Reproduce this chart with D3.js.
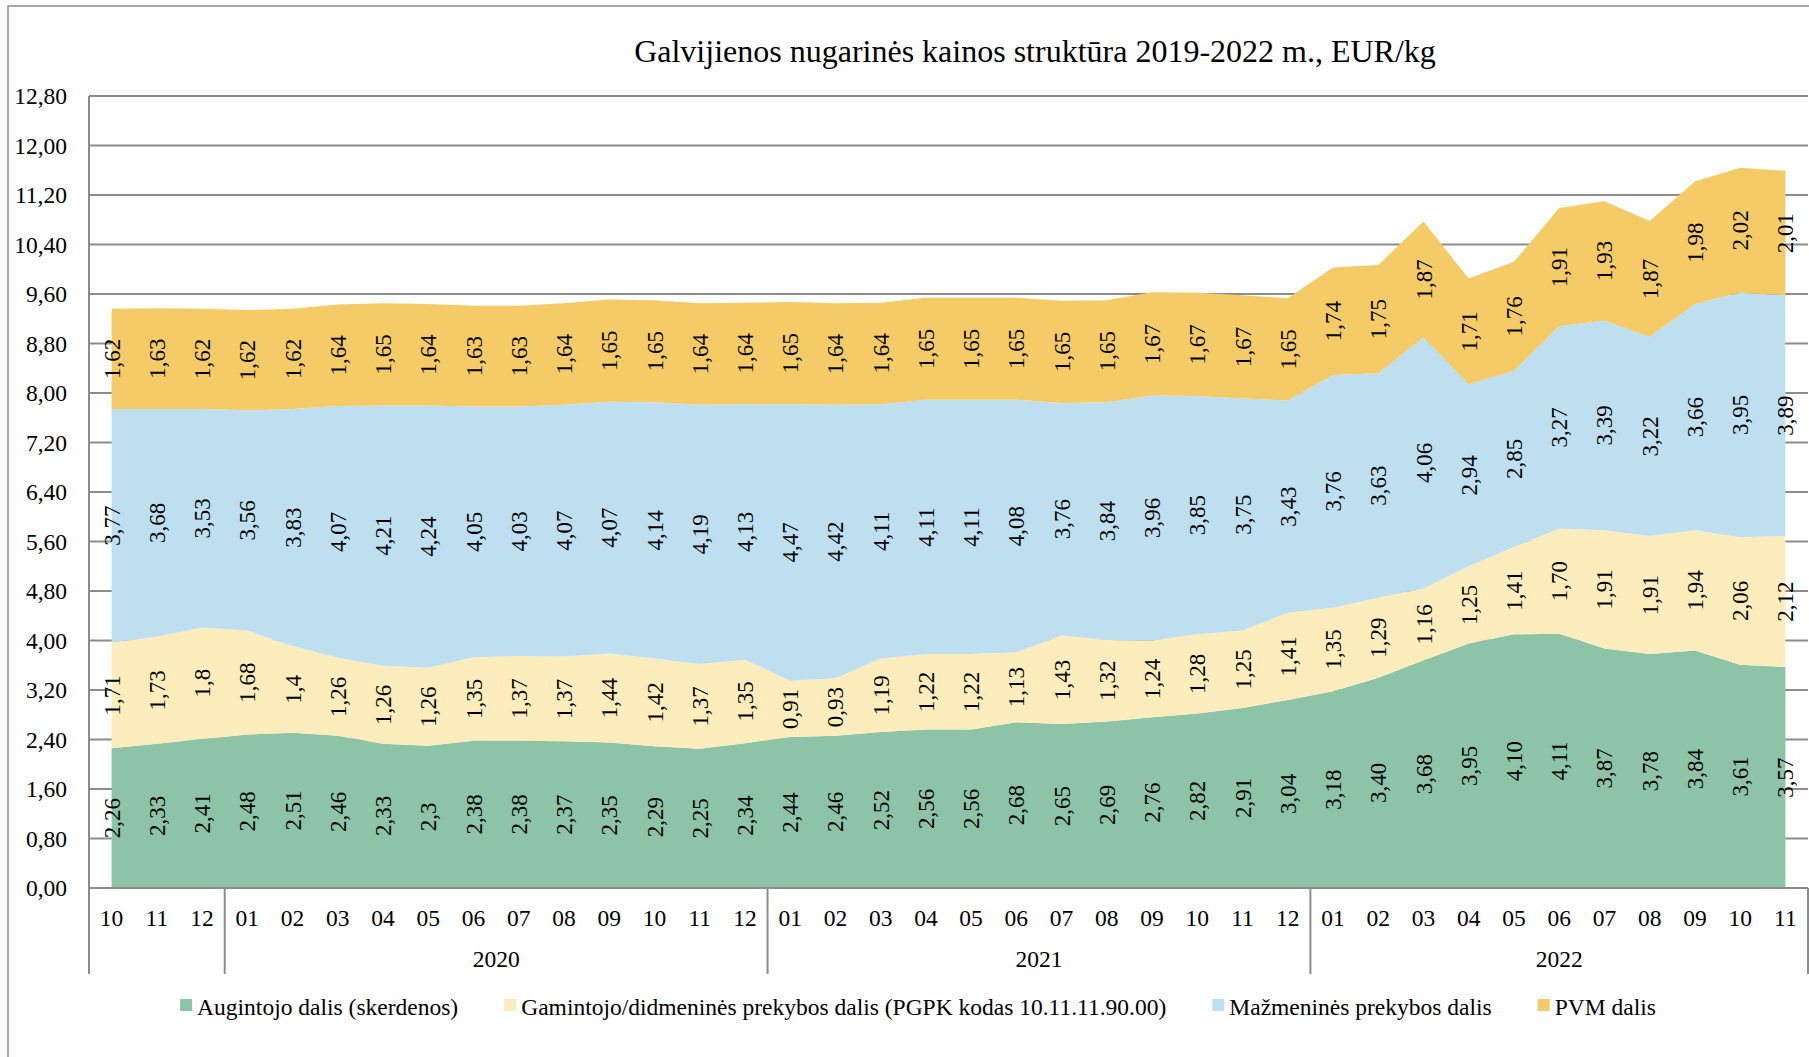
<!DOCTYPE html>
<html>
<head>
<meta charset="utf-8">
<script src="https://cdn.jsdelivr.net/npm/d3@7"></script>
<style>
  body { margin: 0; background: #fff; }
  text { font-family: "Liberation Serif", "Times New Roman", serif; fill: #000; }
</style>
</head>
<body>
<div id="chart"></div>
<script>
// Data (labels kept as printed on the chart)
const months = ["10","11","12",
  "01","02","03","04","05","06","07","08","09","10","11","12",
  "01","02","03","04","05","06","07","08","09","10","11","12",
  "01","02","03","04","05","06","07","08","09","10","11"];
const years = [
  { label: "", from: 0, to: 3 },
  { label: "2020", from: 3, to: 15 },
  { label: "2021", from: 15, to: 27 },
  { label: "2022", from: 27, to: 38 }
];
const augintojo = ["2,26","2,33","2,41",
  "2,48","2,51","2,46","2,33","2,3","2,38","2,38","2,37","2,35","2,29","2,25","2,34",
  "2,44","2,46","2,52","2,56","2,56","2,68","2,65","2,69","2,76","2,82","2,91","3,04",
  "3,18","3,40","3,68","3,95","4,10","4,11","3,87","3,78","3,84","3,61","3,57"];
const gamintojo = ["1,71","1,73","1,8",
  "1,68","1,4","1,26","1,26","1,26","1,35","1,37","1,37","1,44","1,42","1,37","1,35",
  "0,91","0,93","1,19","1,22","1,22","1,13","1,43","1,32","1,24","1,28","1,25","1,41",
  "1,35","1,29","1,16","1,25","1,41","1,70","1,91","1,91","1,94","2,06","2,12"];
const mazmenine = ["3,77","3,68","3,53",
  "3,56","3,83","4,07","4,21","4,24","4,05","4,03","4,07","4,07","4,14","4,19","4,13",
  "4,47","4,42","4,11","4,11","4,11","4,08","3,76","3,84","3,96","3,85","3,75","3,43",
  "3,76","3,63","4,06","2,94","2,85","3,27","3,39","3,22","3,66","3,95","3,89"];
const pvm = ["1,62","1,63","1,62",
  "1,62","1,62","1,64","1,65","1,64","1,63","1,63","1,64","1,65","1,65","1,64","1,64",
  "1,65","1,64","1,64","1,65","1,65","1,65","1,65","1,65","1,67","1,67","1,67","1,65",
  "1,74","1,75","1,87","1,71","1,76","1,91","1,93","1,87","1,98","2,02","2,01"];
const seriesNames = ["Augintojo dalis (skerdenos)",
  "Gamintojo/didmeninės prekybos dalis (PGPK kodas 10.11.11.90.00)",
  "Mažmeninės prekybos dalis",
  "PVM dalis"];
const yTicks = [0, 0.8, 1.6, 2.4, 3.2, 4.0, 4.8, 5.6, 6.4, 7.2, 8.0, 8.8, 9.6, 10.4, 11.2, 12.0, 12.8];

const colors = ["#8dc3a7", "#fdedbc", "#bddfef", "#f4cb67"];
const num = s => +s.replace(",", ".");

// layout
const W = 1809, H = 1057;
const plotLeft = 89, plotRight = 1808, plotTop = 96, plotBottom = 888;

const svg = d3.select("#chart").append("svg")
  .attr("width", W)
  .attr("height", H);

// outer border of chart area (right and bottom run off the page)
svg.append("rect")
  .attr("x", 8).attr("y", 6)
  .attr("width", W + 20).attr("height", H + 20)
  .attr("fill", "none")
  .attr("stroke", "#8c8c8c")
  .attr("stroke-width", 1.5);

// title
svg.append("text")
  .attr("x", 1035).attr("y", 62)
  .attr("text-anchor", "middle")
  .style("font-size", "32px")
  .text("Galvijienos nugarinės kainos struktūra 2019-2022 m., EUR/kg");

// scales
const x = d3.scalePoint()
  .domain(d3.range(months.length))
  .range([plotLeft, plotRight])
  .padding(0.5);
const step = x.step();
const y = d3.scaleLinear().domain([0, 12.8]).range([plotBottom, plotTop]);

// gridlines
svg.append("g")
  .selectAll("line")
  .data(yTicks)
  .join("line")
  .attr("x1", plotLeft).attr("x2", plotRight)
  .attr("y1", d => y(d)).attr("y2", d => y(d))
  .attr("stroke", "#8c8c8c")
  .attr("stroke-width", 2);

// y tick labels
svg.append("g")
  .selectAll("text")
  .data(yTicks)
  .join("text")
  .attr("x", 67)
  .attr("y", d => y(d))
  .attr("dy", "0.35em")
  .attr("text-anchor", "end")
  .style("font-size", "23.5px")
  .text(d => d3.format(".2f")(d).replace(".", ","));

// stacked data
const rows = months.map((m, i) => ({
  i: i,
  s0: num(augintojo[i]),
  s1: num(gamintojo[i]),
  s2: num(mazmenine[i]),
  s3: num(pvm[i])
}));
const labels = [augintojo, gamintojo, mazmenine, pvm];
const stack = d3.stack().keys(["s0", "s1", "s2", "s3"])(rows);

const area = d3.area()
  .x(d => x(d.data.i))
  .y0(d => y(d[0]))
  .y1(d => y(d[1]));

svg.append("g")
  .selectAll("path")
  .data(stack)
  .join("path")
  .attr("d", area)
  .attr("fill", (d, k) => colors[k]);

// y axis line
svg.append("line")
  .attr("x1", plotLeft).attr("x2", plotLeft)
  .attr("y1", plotTop).attr("y2", plotBottom)
  .attr("stroke", "#8c8c8c")
  .attr("stroke-width", 2);

// x axis line
svg.append("line")
  .attr("x1", plotLeft).attr("x2", plotRight)
  .attr("y1", plotBottom).attr("y2", plotBottom)
  .attr("stroke", "#8c8c8c")
  .attr("stroke-width", 2);

// data labels, rotated, in the middle of each band
stack.forEach((layer, k) => {
  svg.append("g")
    .selectAll("text")
    .data(layer)
    .join("text")
    .attr("transform", d => "translate(" + x(d.data.i) + "," + y((d[0] + d[1]) / 2) + ") rotate(-90)")
    .attr("dy", "0.35em")
    .attr("text-anchor", "middle")
    .style("font-size", "23px")
    .text((d, i) => labels[k][i]);
});

// month labels
svg.append("g")
  .selectAll("text")
  .data(months)
  .join("text")
  .attr("x", (d, i) => x(i))
  .attr("y", 926)
  .attr("text-anchor", "middle")
  .style("font-size", "23.5px")
  .text(d => d);

// year separators and labels
const edge = i => plotLeft + i * step;
const seps = [0, 3, 15, 27, 38];
svg.append("g")
  .selectAll("line")
  .data(seps)
  .join("line")
  .attr("x1", d => edge(d)).attr("x2", d => edge(d))
  .attr("y1", plotBottom).attr("y2", 974)
  .attr("stroke", "#8c8c8c")
  .attr("stroke-width", 2);

svg.append("g")
  .selectAll("text")
  .data(years)
  .join("text")
  .attr("x", d => (edge(d.from) + edge(d.to)) / 2)
  .attr("y", 967)
  .attr("text-anchor", "middle")
  .style("font-size", "23.5px")
  .text(d => d.label);

// legend
const legend = svg.append("g").attr("id", "legend");
const items = legend.selectAll("g")
  .data(seriesNames)
  .join("g");
items.append("rect")
  .attr("width", 12).attr("height", 12)
  .attr("y", -8)
  .attr("fill", (d, k) => colors[k]);
items.append("text")
  .attr("x", 17)
  .attr("y", 0)
  .attr("dy", "0.35em")
  .style("font-size", "23.5px")
  .text(d => d);

const gap = 46;
let pos = 0;
const offsets = [];
items.each(function () {
  offsets.push(pos);
  pos += 17 + d3.select(this).select("text").node().getComputedTextLength() + gap;
});
const total = pos - gap;
const legendStart = 918 - total / 2;
items.attr("transform", (d, k) => "translate(" + (legendStart + offsets[k]) + ",1007)");
</script>
</body>
</html>
